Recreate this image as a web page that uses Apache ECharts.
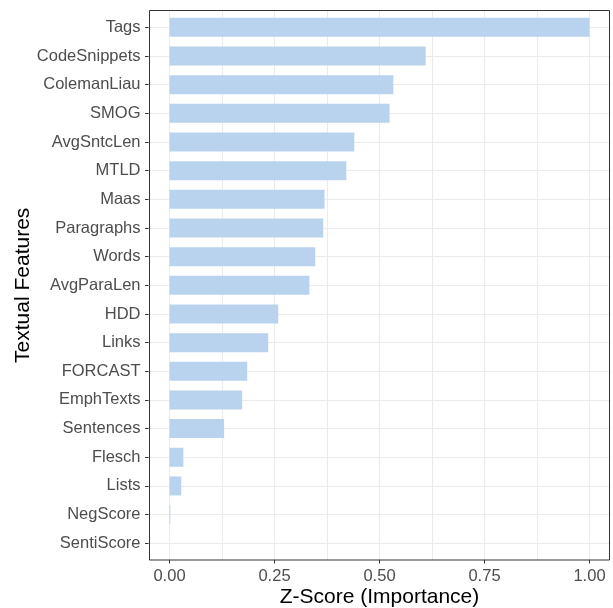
<!DOCTYPE html>
<html>
<head>
<meta charset="utf-8">
<script src="https://cdn.jsdelivr.net/npm/echarts@6/dist/echarts.min.js"></script>
<style>html,body{margin:0;padding:0;background:#fff;}#c{width:613px;height:608px;}</style>
</head>
<body>
<div id="c"></div>
<script>
var categories = ["Tags","CodeSnippets","ColemanLiau","SMOG","AvgSntcLen","MTLD","Maas","Paragraphs","Words","AvgParaLen","HDD","Links","FORCAST","EmphTexts","Sentences","Flesch","Lists","NegScore","SentiScore"];
var values = [1.0,0.610,0.533,0.524,0.440,0.421,0.369,0.366,0.347,0.333,0.259,0.235,0.185,0.173,0.130,0.033,0.028,0.002,0.0];
var xTickValues = [0, 0.25, 0.5, 0.75, 1.0];
var xGridStep = 0.125;
var xLabel = "Z-Score (Importance)";
var yLabel = "Textual Features";

var FONT = "Liberation Sans, Arial, sans-serif";
var chart = echarts.init(document.getElementById('c'), null, {renderer: 'canvas'});
var nCat = categories.length;
var option = {
  animation: false,
  backgroundColor: '#ffffff',
  grid: [
    {left: 148.5, right: 2.5, top: 13, bottom: 50.4, outerBoundsMode: 'none', containLabel: false},
    {left: 169.5, right: 23.5, top: 10, bottom: 48, outerBoundsMode: 'none', containLabel: false},
    {left: 148.5, right: 2.5, top: 27.33, bottom: 64.73, outerBoundsMode: 'none', containLabel: false}
  ],
  xAxis: [
    {gridIndex: 0, type: 'value', min: -0.05, max: 1.05, show: false, axisLine: {onZero: false}},
    {gridIndex: 1, type: 'value', min: 0, max: 1, interval: xGridStep, position: 'bottom',
     axisLine: {show: false, onZero: false}, axisTick: {show: false},
     splitLine: {show: true, lineStyle: {color: '#ebebeb', width: 1}},
     axisLabel: {color: '#4d4d4d', fontSize: 16.5, fontFamily: FONT, margin: 8,
       formatter: function (v) {
         for (var i = 0; i < xTickValues.length; i++) {
           if (Math.abs(xTickValues[i] - v) < 1e-9) return v.toFixed(2);
         }
         return '';
       }},
     name: xLabel, nameLocation: 'middle', nameGap: 27, nameMoveOverlap: false,
     nameTextStyle: {color: '#000', fontSize: 21, fontFamily: FONT}
    },
    {gridIndex: 1, type: 'value', min: 0, max: 1, interval: 0.25, position: 'bottom',
     axisLine: {show: false, onZero: false}, splitLine: {show: false}, axisLabel: {show: false},
     axisTick: {show: true, length: 3.5, lineStyle: {color: '#333333', width: 1}}},
    {gridIndex: 2, type: 'value', min: 0, max: 1, show: false, axisLine: {onZero: false}}
  ],
  yAxis: [
    {gridIndex: 0, type: 'category', data: categories, inverse: true, position: 'left',
     axisLine: {show: false, onZero: false},
     axisTick: {show: true, alignWithLabel: true, length: 3.5, lineStyle: {color: '#333333', width: 1}},
     splitLine: {show: false},
     axisLabel: {color: '#4d4d4d', fontSize: 16.5, fontFamily: FONT, margin: 8},
     name: yLabel, nameLocation: 'middle', nameGap: 115, nameRotate: 90, nameMoveOverlap: false,
     nameTextStyle: {color: '#000', fontSize: 21, fontFamily: FONT}
    },
    {gridIndex: 1, type: 'value', min: 0, max: 1, show: false, axisLine: {onZero: false}},
    {gridIndex: 2, type: 'value', min: 0, max: nCat - 1, interval: 1,
     axisLine: {show: false, onZero: false}, axisTick: {show: false}, axisLabel: {show: false},
     splitLine: {show: true, lineStyle: {color: '#ebebeb', width: 1}}}
  ],
  series: [
    {
      type: 'bar', xAxisIndex: 0, yAxisIndex: 0, data: values, z: 2,
      barWidth: 19,
      itemStyle: {color: '#B9D3EE'},
      silent: true
    }
  ],
  graphic: [
    {type: 'rect', z: 100, silent: true,
     shape: {x: 149.5, y: 10.5, width: 460, height: 549.5},
     style: {fill: null, stroke: '#333333', lineWidth: 1}}
  ]
};
chart.setOption(option);
</script>
</body>
</html>
